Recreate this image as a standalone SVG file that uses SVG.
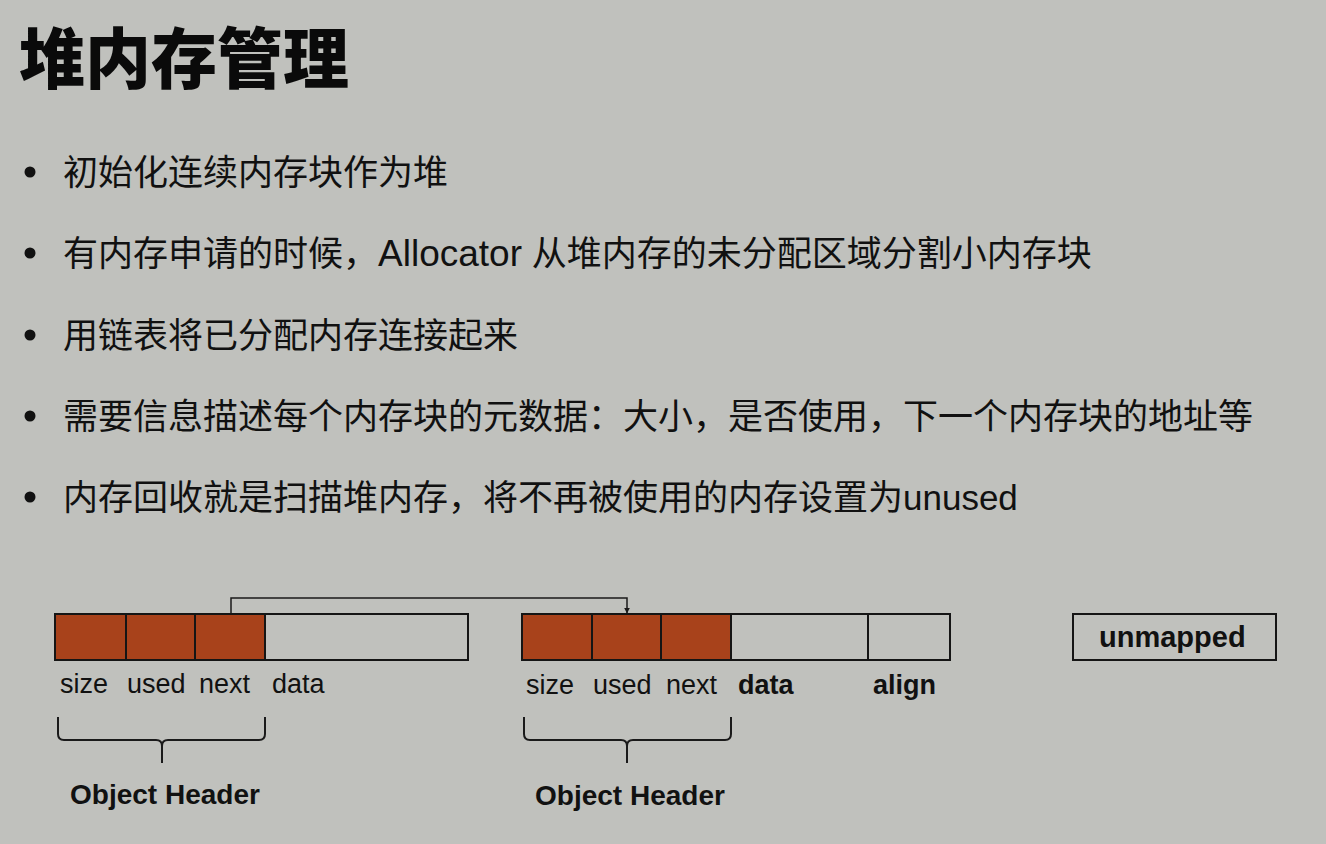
<svg xmlns="http://www.w3.org/2000/svg" width="1326" height="844" viewBox="0 0 1326 844">
<defs>
<style>
.cjk{font-family:"Liberation Sans","Noto Sans CJK SC",sans-serif;fill:#111;}
.title{font-family:"Noto Sans CJK SC",sans-serif;font-weight:900;font-size:66px;fill:#0a0a0a;}
.bul{font-size:35px;}
.lat{font-size:37px;}
.lbl{font-family:"Liberation Sans",Arial,sans-serif;font-size:27px;fill:#111;}
.bl{font-family:"Liberation Sans",Arial,sans-serif;font-size:27px;font-weight:bold;fill:#111;}
.hdr{font-family:"Liberation Sans",Arial,sans-serif;font-size:28px;font-weight:bold;fill:#111;}
.cell{fill:#a8421b;stroke:#151515;stroke-width:2;}
.empty{fill:none;stroke:#151515;stroke-width:2;}
.brace{fill:none;stroke:#1a1a1a;stroke-width:2;}
.conn{fill:none;stroke:#1a1a1a;stroke-width:1.5;}
</style>
<marker id="arr" viewBox="0 0 10 10" refX="9" refY="5" markerWidth="6" markerHeight="6" markerUnits="userSpaceOnUse" orient="auto">
<path d="M0,0 L10,5 L0,10 z" fill="#1a1a1a"/>
</marker>
</defs>
<rect x="0" y="0" width="1326" height="844" fill="#c0c1bd"/>
<g id="title">
<text class="title" x="19" y="83">堆内存管理</text>
</g>
<g id="bullets">
<circle cx="30" cy="172" r="5.5" fill="#111"/>
<text class="cjk bul" x="63" y="185">初始化连续内存块作为堆</text>
<circle cx="30" cy="253" r="5.5" fill="#111"/>
<text class="cjk bul" x="63" y="266">有内存申请的时候，<tspan class="lat">Allocator</tspan> 从堆内存的未分配区域分割小内存块</text>
<circle cx="30" cy="335" r="5.5" fill="#111"/>
<text class="cjk bul" x="63" y="348">用链表将已分配内存连接起来</text>
<circle cx="30" cy="416" r="5.5" fill="#111"/>
<text class="cjk bul" x="63" y="429">需要信息描述每个内存块的元数据：大小，是否使用，下一个内存块的地址等</text>
<circle cx="30" cy="497" r="5.5" fill="#111"/>
<text class="cjk bul" x="63" y="510">内存回收就是扫描堆内存，将不再被使用的内存设置为unused</text>
</g>
<g id="connectors">
<path class="conn" d="M231,614 V598 H627 V613" marker-end="url(#arr)"/>
</g>
<g id="block1">
<rect class="cell" x="55" y="614" width="71" height="46"/>
<rect class="cell" x="126" y="614" width="69" height="46"/>
<rect class="cell" x="195" y="614" width="70" height="46"/>
<rect class="empty" x="265" y="614" width="203" height="46"/>
<text class="lbl" x="60" y="693">size</text>
<text class="lbl" x="127" y="693">used</text>
<text class="lbl" x="199" y="693">next</text>
<text class="lbl" x="272" y="693">data</text>
<path class="brace" d="M58,717 V734 Q58,740 64,740 H156 Q162,740 162,746 V763 M162,746 Q162,740 168,740 H259 Q265,740 265,734 V717"/>
<text class="hdr" x="70" y="804">Object Header</text>
</g>
<g id="block2">
<rect class="cell" x="522" y="614" width="70" height="46"/>
<rect class="cell" x="592" y="614" width="69" height="46"/>
<rect class="cell" x="661" y="614" width="70" height="46"/>
<rect class="empty" x="731" y="614" width="137" height="46"/>
<rect class="empty" x="868" y="614" width="82" height="46"/>
<text class="lbl" x="526" y="694">size</text>
<text class="lbl" x="593" y="694">used</text>
<text class="lbl" x="666" y="694">next</text>
<text class="bl" x="738" y="694">data</text>
<text class="bl" x="873" y="694">align</text>
<path class="brace" d="M524,717 V734 Q524,740 530,740 H621 Q627,740 627,746 V763 M627,746 Q627,740 633,740 H725 Q731,740 731,734 V717"/>
<text class="hdr" x="535" y="805">Object Header</text>
</g>
<g id="unmapped">
<rect class="empty" x="1073" y="614" width="203" height="46"/>
<text class="bl" x="1099" y="647" style="font-size:29px">unmapped</text>
</g>
</svg>
